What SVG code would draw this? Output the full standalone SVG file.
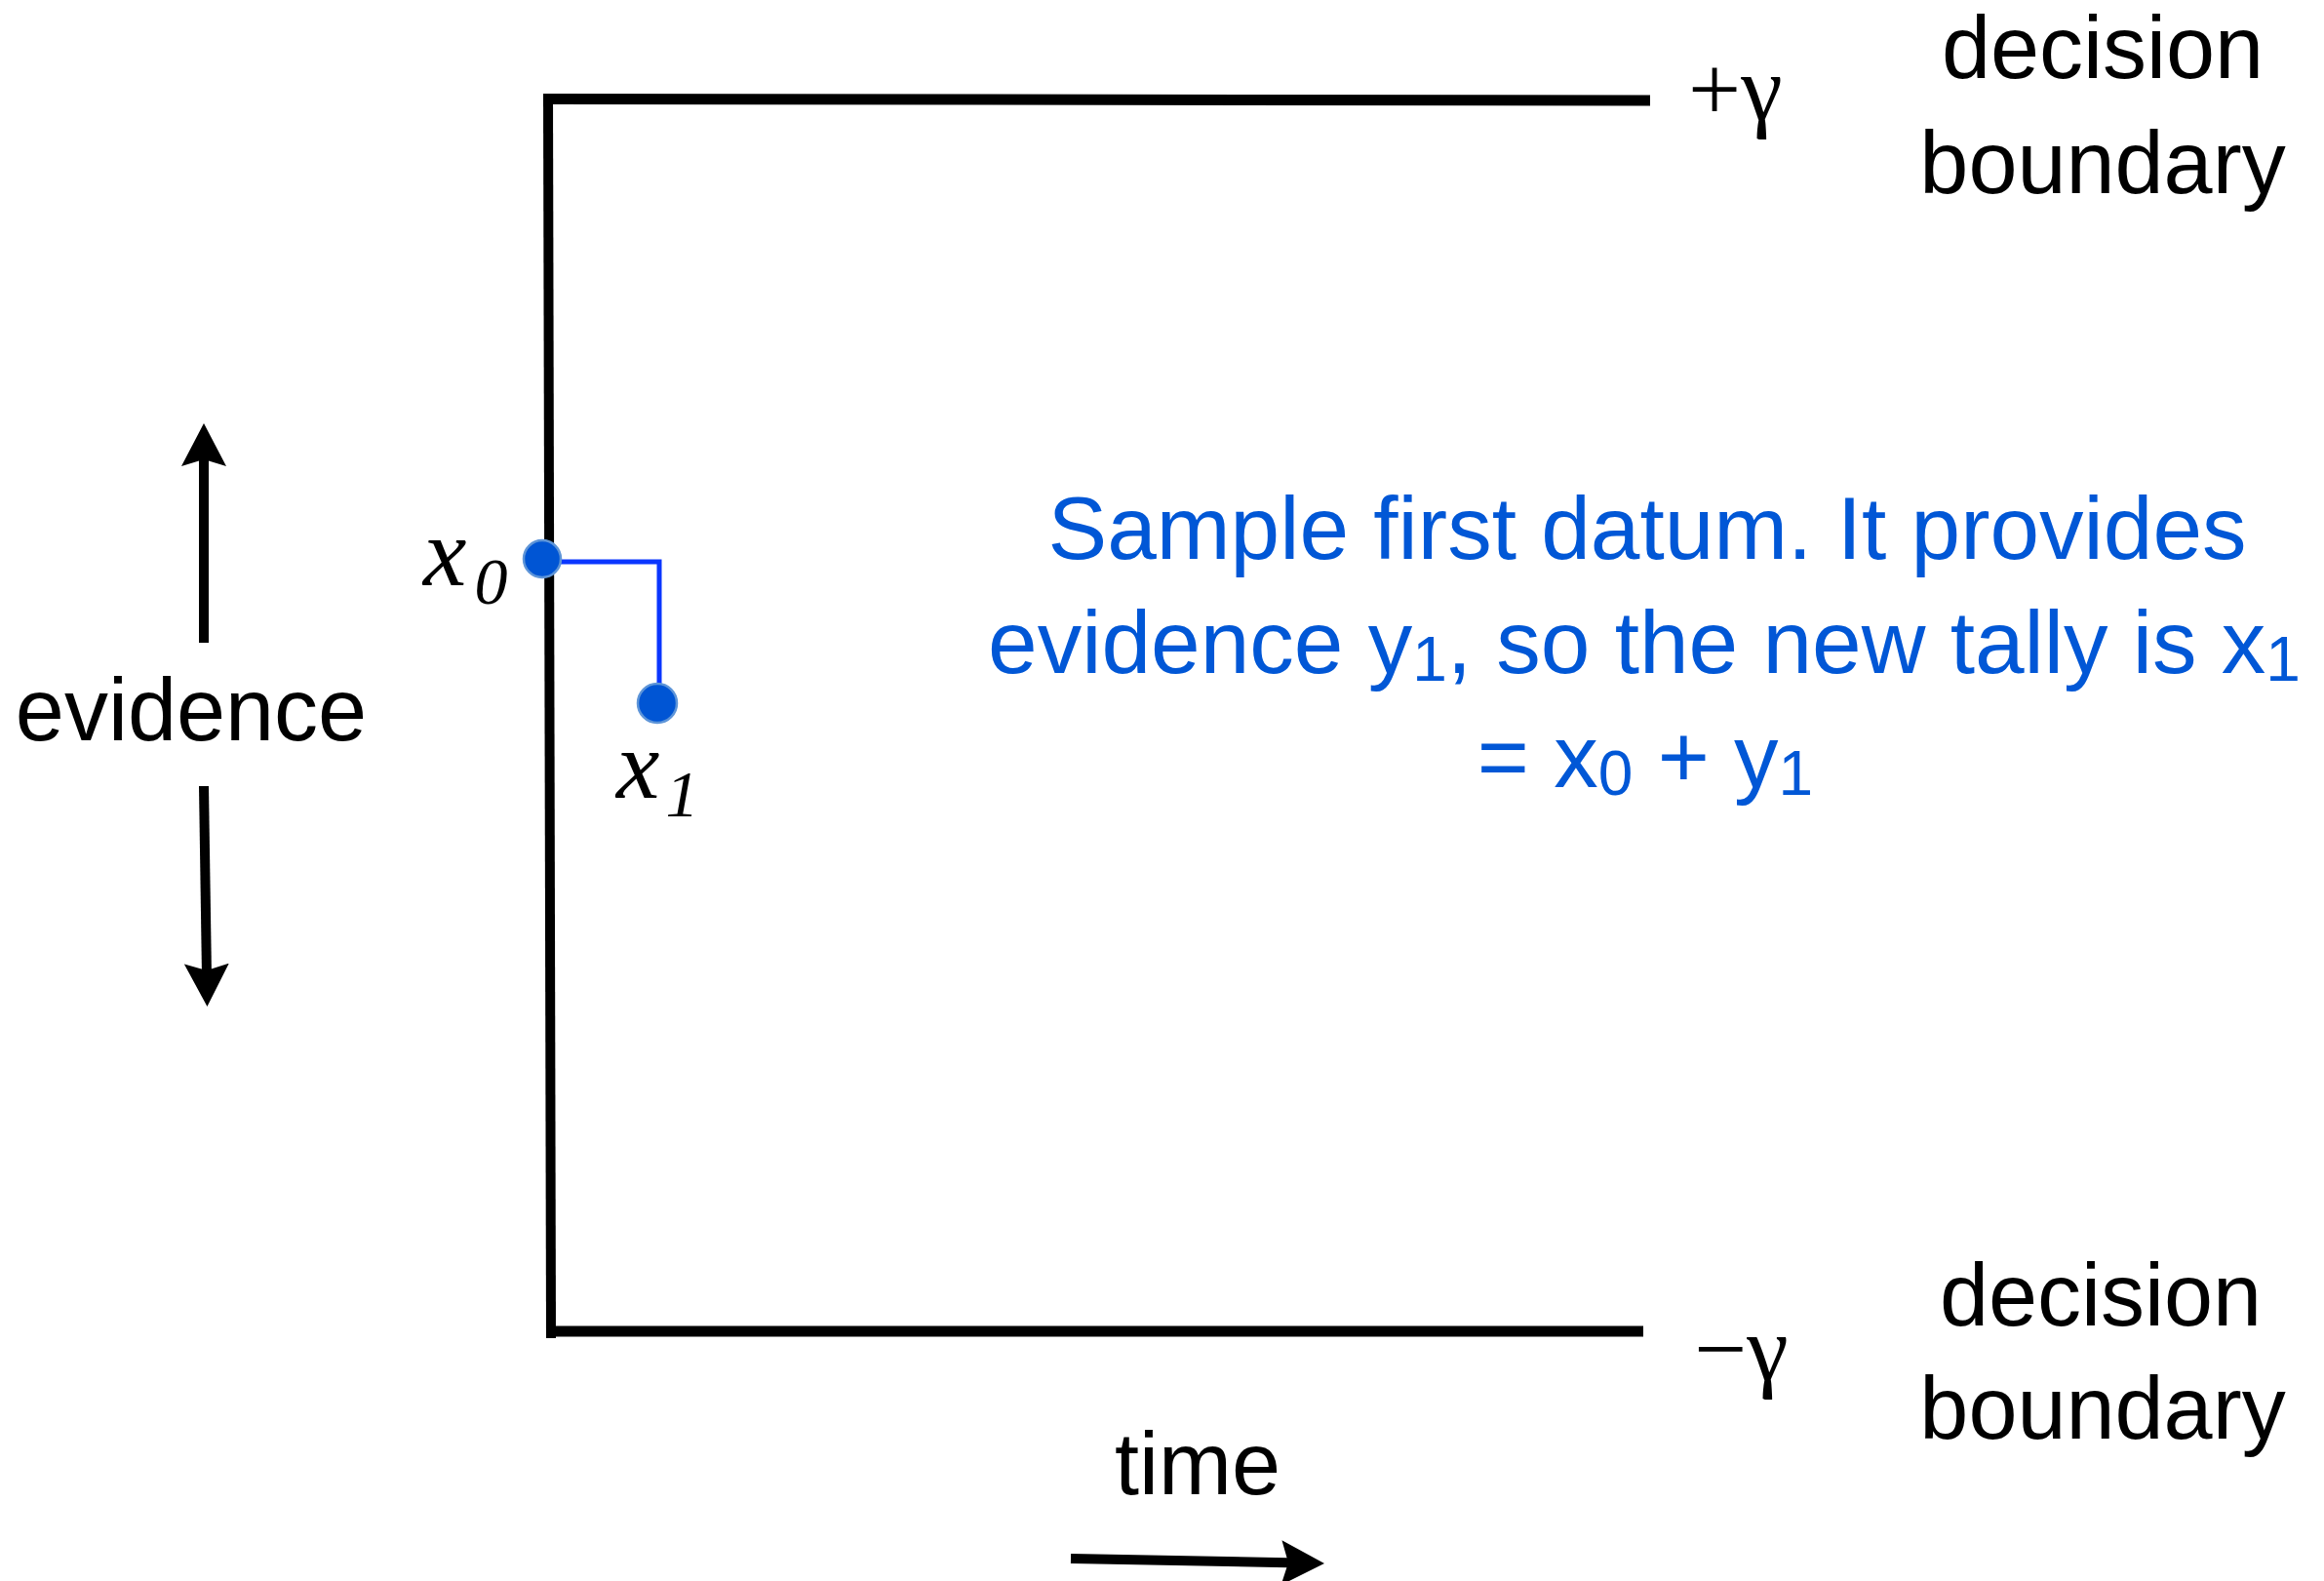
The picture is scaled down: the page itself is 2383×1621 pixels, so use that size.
<svg xmlns="http://www.w3.org/2000/svg" width="2383" height="1621" viewBox="0 0 2383 1621">
<style>
  .lbl { font-family: "Liberation Sans", Arial, sans-serif; font-size: 90px; fill: #000; text-anchor: middle; }
  .blue { font-family: "Liberation Sans", Arial, sans-serif; font-size: 91px; fill: #0157d6; text-anchor: middle; }
  .math { font-family: "Liberation Serif", "Times New Roman", serif; font-size: 96px; fill: #000; }
  .var { font-family: "Liberation Serif", "Times New Roman", serif; font-style: italic; font-size: 100px; fill: #000; }
  .axis { stroke: #000; stroke-width: 10; fill: none; }
  .bound { stroke: #000; stroke-width: 11; fill: none; }
  .arr { stroke: #000; stroke-width: 10; fill: none; marker-end: url(#head); }
  .dot { fill: #0055d4; stroke: #5e95d8; stroke-width: 2.5; }
  .step { stroke: #0a36ff; stroke-width: 5; fill: none; }
</style>
<defs>
  <marker id="head" markerUnits="userSpaceOnUse" markerWidth="44" markerHeight="46" viewBox="0 0 44 46" refX="7" refY="23" orient="auto">
    <path d="M0,0 L44,23 L0,46 L7,23 Z" fill="#000"/>
  </marker>
</defs>
<rect width="2383" height="1621" fill="#fff"/>

<g id="axes">
  <line class="axis" x1="562" y1="96" x2="565" y2="1372"/>
  <line class="bound" x1="567" y1="101.5" x2="1692" y2="103"/>
  <line class="bound" x1="567" y1="1365" x2="1685" y2="1365"/>
</g>

<g id="connectors">
  <line class="arr" x1="209" y1="659" x2="209" y2="471"/>
  <line class="arr" x1="209" y1="806" x2="211.9" y2="995"/>
  <line class="arr" x1="1098" y1="1598" x2="1321" y2="1602.3"/>
  <polyline class="step" points="562,576 676,576 676,703"/>
</g>

<g id="upper-boundary-label">
  <text class="math" x="1731" y="123">+γ</text>
  <text class="lbl" x="2156" y="80">decision</text>
  <text class="lbl" x="2156" y="198">boundary</text>
</g>

<g id="lower-boundary-label">
  <text class="math" x="1737" y="1415">−γ</text>
  <text class="lbl" x="2154" y="1359">decision</text>
  <text class="lbl" x="2156" y="1475">boundary</text>
</g>

<g id="evidence-label">
  <text class="lbl" x="196" y="759">evidence</text>
</g>

<g id="time-label">
  <text class="lbl" x="1228" y="1532">time</text>
</g>

<g id="x0">
  <circle class="dot" cx="556" cy="573" r="19"/>
  <text class="var" x="434" y="600">x<tspan dx="8" dy="19" font-size="68">0</tspan></text>
</g>

<g id="x1">
  <circle class="dot" cx="674" cy="721" r="20"/>
  <text class="var" x="632" y="818">x<tspan dx="6" dy="19" font-size="68">1</tspan></text>
</g>

<g id="explanation">
  <text class="blue" x="1689" y="573">Sample first datum. It provides</text>
  <text class="blue" x="1686" y="690">evidence y<tspan dy="8" font-size="64">1</tspan><tspan dy="-8">, so the new tally is x</tspan><tspan dy="8" font-size="64">1</tspan></text>
  <text class="blue" x="1687" y="807">= x<tspan dy="8" font-size="64">0</tspan><tspan dy="-8"> + y</tspan><tspan dy="8" font-size="64">1</tspan></text>
</g>
</svg>
